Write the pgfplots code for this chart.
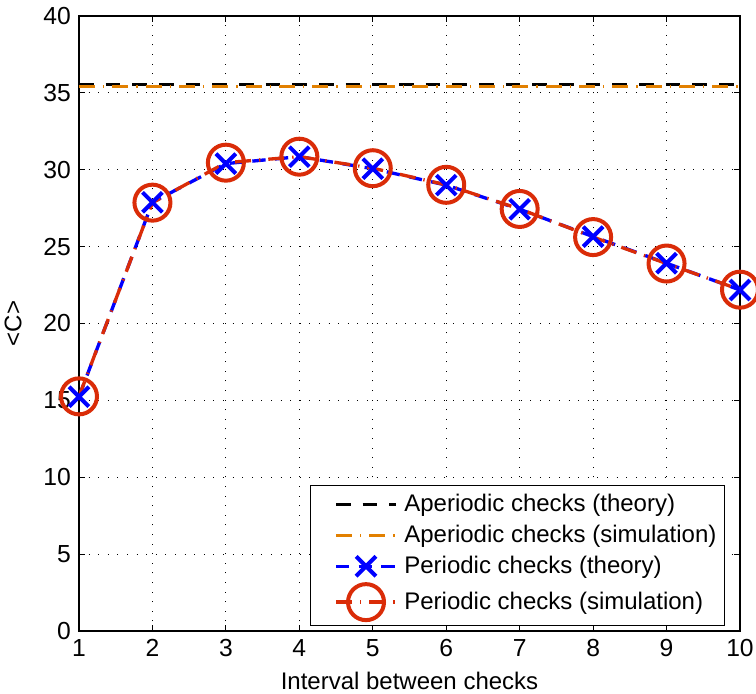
\documentclass[border=0pt]{standalone}
\usepackage{fontspec}
\setmainfont{Liberation Sans}
\usepackage{pgfplots}
\pgfplotsset{compat=1.18}
\definecolor{mlorange}{RGB}{226,128,0}
\definecolor{mlred}{RGB}{218,44,8}
\definecolor{mlblue}{RGB}{0,0,255}

\begin{document}
\fontsize{18}{21.5}\selectfont
\begin{tikzpicture}
\useasboundingbox (-59.25pt,-46.5pt) rectangle (507.75pt,473.25pt);
\begin{axis}[
  at={(0,0)}, anchor=south west,
  scale only axis, width=495.75pt, height=461.25pt,
  xmin=1, xmax=10, ymin=0, ymax=40,
  xtick={1,...,10}, ytick={0,5,...,40},
  tick align=inside, major tick length=4.5pt,
  tick style={black, line width=0.6pt},
  axis line style={line width=0.9pt},
  grid=major, major grid style={black, line width=0.7pt, dash pattern=on 0.7pt off 6.5pt},
  /pgf/number format/assume math mode=true,
  ticklabel style={font=\fontsize{18.5}{22}\selectfont},
  label style={font=\fontsize{18}{21.5}\selectfont},
  xlabel={Interval between checks},
  ylabel={<C>},
  xlabel style={yshift=1pt},
  ylabel style={yshift=4pt},
  legend cell align=left,
  legend style={at={(1,0)}, anchor=south east, xshift=-11.25pt, yshift=3.75pt,
    font=\fontsize{18}{21.5}\selectfont, draw=black, line width=0.8pt,
    row sep=3.5pt, inner xsep=4pt, inner ysep=4pt},
  legend image code/.code={
    \path (-14pt,0pt) (48pt,0pt);
    \draw[mark repeat=2, mark phase=2, #1] plot coordinates {(0pt,0pt) (22.5pt,0pt) (45pt,0pt)};
  },
]
\addplot[black, line width=2.5pt, dash pattern=on 11pt off 9pt]
  coordinates {(1,35.56) (10,35.56)};
\addlegendentry{Aperiodic checks (theory)}
\addplot[mlorange, line width=2.5pt, dash pattern=on 12pt off 6pt on 1pt off 6pt]
  coordinates {(1,35.43) (10,35.43)};
\addlegendentry{Aperiodic checks (simulation)}
\addplot[mlblue, line width=2.5pt, dash pattern=on 10pt off 7pt,
  mark=x, mark size=10.5pt, mark options={solid, line width=3pt}]
  coordinates {(1,15.24) (2,27.88) (3,30.40) (4,30.85) (5,30.07) (6,29.00) (7,27.43) (8,25.65) (9,23.92) (10,22.18)};
\addlegendentry{Periodic checks (theory)}
\addplot[mlred, line width=2.5pt, dash pattern=on 12pt off 6pt on 1pt off 6pt,
  mark=o, mark size=13.5pt, mark options={solid, line width=3pt}]
  coordinates {(1,15.26) (2,27.86) (3,30.46) (4,30.85) (5,30.10) (6,29.02) (7,27.45) (8,25.62) (9,23.90) (10,22.20)};
\addlegendentry{Periodic checks (simulation)}
\end{axis}
\end{tikzpicture}
\end{document}
